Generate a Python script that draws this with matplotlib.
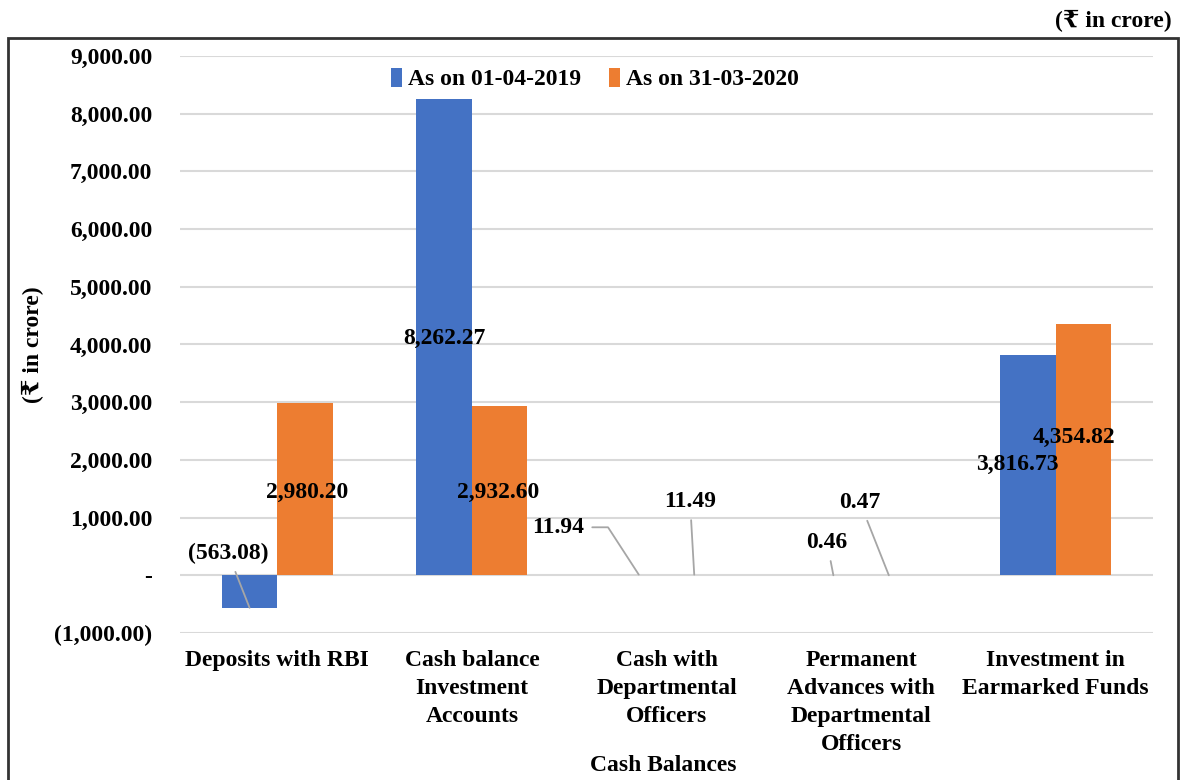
import numpy as np
import matplotlib
matplotlib.use("Agg")
import matplotlib.pyplot as plt
from matplotlib.patches import Rectangle
from matplotlib.ticker import FuncFormatter

plt.rcParams['font.family'] = ['Liberation Serif', 'DejaVu Serif', 'DejaVu Sans']
plt.rcParams['font.weight'] = 'bold'

categories = ["Deposits with RBI",
              "Cash balance\nInvestment\nAccounts",
              "Cash with\nDepartmental\nOfficers",
              "Permanent\nAdvances with\nDepartmental\nOfficers",
              "Investment in\nEarmarked Funds"]
series_names = ["As on 01-04-2019", "As on 31-03-2020"]
val_2019 = [-563.08, 8262.27, 11.94, 0.46, 3816.73]
val_2020 = [2980.20, 2932.60, 11.49, 0.47, 4354.82]

colors = ["#4472C4", "#ED7D31"]
FS = 17


def acct(v, pos=None):
    if abs(v) < 1e-9:
        return "-"
    s = f"{abs(v):,.2f}"
    return f"({s})" if v < 0 else s


fig = plt.figure(figsize=(11.86, 7.80), dpi=100)
ax = fig.add_axes([180 / 1186, 1 - 633 / 780, 973 / 1186, 577 / 780])

x = np.arange(len(categories))
w = 0.285
b1 = ax.bar(x - w / 2, val_2019, w, color=colors[0], label=series_names[0], zorder=3)
b2 = ax.bar(x + w / 2, val_2020, w, color=colors[1], label=series_names[1], zorder=3)

ax.set_xlim(-0.5, len(categories) - 0.5)
ax.set_ylim(-1000, 9000)
ax.set_yticks(np.arange(-1000, 9001, 1000))
ax.yaxis.set_major_formatter(FuncFormatter(acct))
ax.grid(axis='y', color='#D9D9D9', lw=1.5, zorder=0)
for s in ax.spines.values():
    s.set_visible(False)
ax.tick_params(axis='y', length=0, pad=20, labelsize=FS)
ax.tick_params(axis='x', length=0, pad=12, labelsize=FS)
ax.set_xticks(x)
ax.set_xticklabels(categories, fontsize=FS, fontweight='bold')
for t in ax.get_xticklabels():
    t.set_linespacing(1.45)
for t in ax.get_yticklabels():
    t.set_fontweight('bold')

# data labels: (text x, text y, leader connection or None) per bar
label_pos_2019 = [(-0.253, 381, "arc3"), (0.857, 4107, None),
                  (1.442, 832, "angle,angleA=0,angleB=123,rad=0"),
                  (2.825, 572, "arc3"), (3.801, 1924, None)]
label_pos_2020 = [(0.153, 1438, None), (1.134, 1438, None), (2.121, 1282, "arc3"),
                  (2.994, 1265, "arc3"), (4.094, 2392, None)]

for bars, vals, lp in [(b1, val_2019, label_pos_2019), (b2, val_2020, label_pos_2020)]:
    for bar, v, (tx, ty, conn) in zip(bars, vals, lp):
        bx = bar.get_x() + bar.get_width() / 2
        if conn:
            ax.annotate(acct(v), xy=(bx, v), xytext=(tx, ty), ha='center', va='center',
                        fontsize=FS, fontweight='bold', zorder=5,
                        arrowprops=dict(arrowstyle='-', color='#A6A6A6', lw=1.3,
                                        shrinkA=4, shrinkB=0, connectionstyle=conn))
        else:
            ax.text(tx, ty, acct(v), ha='center', va='center', fontsize=FS,
                    fontweight='bold', zorder=5)

ax.legend(loc='center', bbox_to_anchor=((595 - 180) / 973, (633 - 79) / 577), ncol=2,
          frameon=False, handlelength=0.45, handleheight=0.9,
          handletextpad=0.25, columnspacing=1.2,
          prop={'size': FS, 'weight': 'bold'})

ax.set_xlabel("Cash Balances", fontsize=FS, fontweight='bold')
ax.xaxis.set_label_coords((663 - 180) / 973, -(755 - 633) / 577)
ax.set_ylabel("(₹ in crore)", fontsize=FS, fontweight='bold')
ax.yaxis.set_label_coords(-(180 - 44) / 973, (633 - 345) / 577)

fig.text(1172 / 1186, 1 - 21 / 780, "(₹ in crore)", ha='right', va='center',
         fontsize=FS, fontweight='bold')

fig.add_artist(Rectangle((8 / 1186, -0.05), 1170 / 1186, 1 - 38 / 780 + 0.05,
                         transform=fig.transFigure, fill=False, lw=2, ec='#333333'))

fig.savefig("out.png", dpi=100)
